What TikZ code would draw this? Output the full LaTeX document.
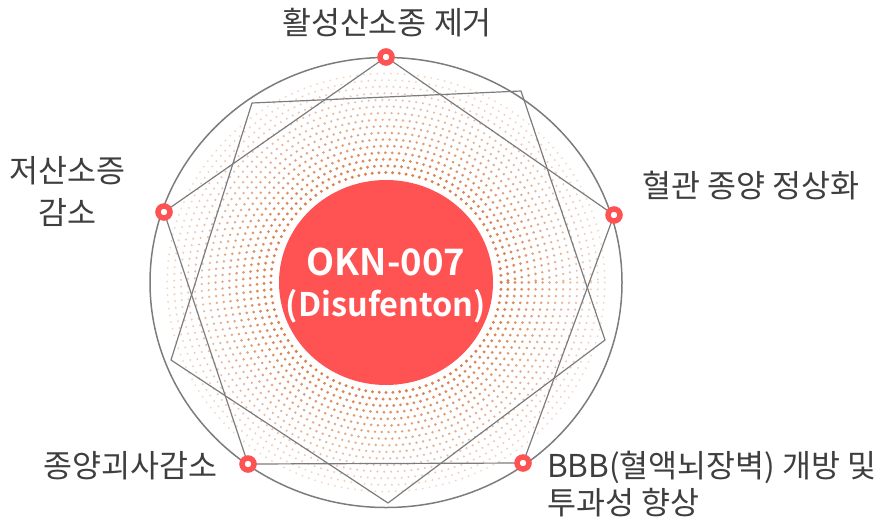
\documentclass[tikz,border=0pt]{standalone}
\usepackage{fontspec}
\setmainfont{Open Sans}
\newfontfamily\krfont{Noto Sans CJK KR}
\newfontfamily\corefont{Noto Sans CJK KR Bold}
\usetikzlibrary{shapes.geometric}
\definecolor{corered}{HTML}{FF5252}
\definecolor{dotc}{HTML}{D9814F}
\definecolor{linegray}{HTML}{7C7C7C}
\definecolor{labelc}{HTML}{3E3E3E}
\tikzset{
  marker/.style={circle, draw=corered, line width=5.5pt, fill=white, minimum size=12pt, inner sep=0pt},
  edge/.style={draw=linegray, line width=1.2pt, line join=round},
  label/.style={font=\krfont\fontsize{31.5}{42}\selectfont, text=labelc, inner sep=0pt},
  coretext/.style={text=white, inner sep=0pt},
  ring/.style={draw=dotc, dash pattern=on 0pt off 6.8pt, line cap=round}
}
\begin{document}
\begin{tikzpicture}[x=1pt,y=-1pt]
\useasboundingbox (0,0) rectangle (877,519);
\coordinate (c) at (386,282.5);
% dotted rings
\foreach \i in {0,...,15} {
  \pgfmathsetmacro\r{110+6.6*\i}
  \pgfmathsetmacro\op{1-0.045*\i}
  \pgfmathsetmacro\lw{3.3-0.08*\i}
  \draw[ring, line width=\lw pt, opacity=\op] (c) ellipse [x radius=1.047*\r, y radius=\r];
}
% outer circle
\draw[draw=linegray, line width=1.5pt] (c) ellipse [x radius=236, y radius=225];
% second pentagon
\coordinate (q1) at (252,103);
\coordinate (q2) at (521,91);
\coordinate (q3) at (605,340);
\coordinate (q4) at (388,503);
\coordinate (q5) at (171,360);
\draw[edge] (q1) -- (q2) -- (q3) -- (q4) -- (q5) -- cycle;
% main pentagon vertices
\coordinate (p1) at (386,57);
\coordinate (p2) at (614,215);
\coordinate (p3) at (523,463);
\coordinate (p4) at (248,464);
\coordinate (p5) at (164,212);
\draw[edge] (p1) -- (p2) -- (p3) -- (p4) -- (p5) -- cycle;
% core
\node (core) [ellipse, fill=corered, minimum width=214pt, minimum height=205pt, inner sep=0pt] at (c) {};
\node (coretxta) [coretext, font=\corefont\fontsize{36.5}{40}\selectfont] at (386,262) {OKN-007};
\node (coretxtb) [coretext, font=\corefont\fontsize{32.5}{40}\selectfont] at (386,306) {(Disufenton)};
% markers
\node (m1) [marker] at (p1) {};
\node (m2) [marker] at (p2) {};
\node (m3) [marker] at (p3) {};
\node (m4) [marker] at (p4) {};
\node (m5) [marker] at (p5) {};
% labels
\node (l1) [label] at (387,23) {활성산소종 제거};
\node (l2) [label, align=center] at (67.5,191) {저산소증\\감소};
\node (l3) [label, anchor=west] at (642,186) {혈관 종양 정상화};
\node (l4) [label] at (130.5,466) {종양괴사감소};
\node (l5) [label, anchor=west, align=left, font=\krfont\fontsize{31.5}{37}\selectfont] at (547,484) {BBB(혈액뇌장벽) 개방 및\\투과성 향상};
\end{tikzpicture}
\end{document}
